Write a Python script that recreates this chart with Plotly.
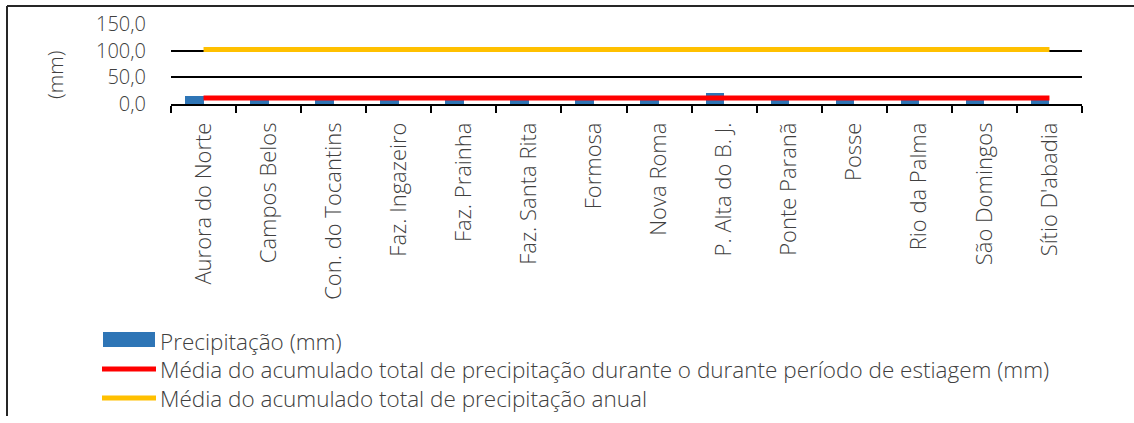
import plotly.graph_objects as go

# Estações pluviométricas
estacoes = [
    "Aurora do Norte", "Campos Belos", "Con. do Tocantins", "Faz. Ingazeiro",
    "Faz. Prainha", "Faz. Santa Rita", "Formosa", "Nova Roma",
    "P. Alta do B. J.", "Ponte Paranã", "Posse", "Rio da Palma",
    "São Domingos", "Sítio D'abadia",
]
# Precipitação no período de estiagem (mm)
precipitacao = [14.3, 10.0, 10.2, 10.1, 10.3, 9.9, 10.2, 10.0, 20.6, 10.1, 10.3, 10.0, 10.4, 10.2]
# Médias de referência (mm)
media_estiagem = 11.2
media_anual = 102.0

nomes = [
    "Precipitação (mm)",
    "Média do acumulado total de precipitação durante o durante período de estiagem (mm)",
    "Média do acumulado total de precipitação anual",
]

AZUL = "#2E75B6"
VERMELHO = "#FF0000"
AMARELO = "#FFC000"
TEXTO = "#404040"
FONTE = "Open Sans, Noto Sans, sans-serif"
PESO = 300

W, H = 1134, 423
ML, MR, MT, MB = 171, 52, 24, 319
BASE = H - MB  # linha do eixo x, em pixels a partir do topo


def box(x0, x1, y0, y1):
    # posições em pixels (a partir do canto superior esquerdo da figura),
    # ancoradas no canto inferior esquerdo da área do gráfico
    return dict(xref="paper", yref="paper", xsizemode="pixel", ysizemode="pixel",
                xanchor=0, yanchor=0,
                x0=x0 - ML, x1=x1 - ML, y0=BASE - y0, y1=BASE - y1)


fig = go.Figure()
fig.add_trace(go.Bar(
    x=estacoes, y=precipitacao, name=nomes[0],
    marker=dict(color=AZUL, line=dict(width=0)),
    width=0.285, offset=-0.285, showlegend=False,
))
fig.add_trace(go.Scatter(
    x=estacoes, y=[media_estiagem] * len(estacoes), name=nomes[1],
    mode="lines", line=dict(color=VERMELHO, width=5), showlegend=False,
))
fig.add_trace(go.Scatter(
    x=estacoes, y=[media_anual] * len(estacoes), name=nomes[2],
    mode="lines", line=dict(color=AMARELO, width=5), showlegend=False,
))

shapes = [
    # moldura do gráfico
    dict(type="line", line=dict(color="#262626", width=2), **box(7, 1140, 6, 6)),
    dict(type="line", line=dict(color="#262626", width=2), **box(7, 7, 6, 416)),
]


def label(text, x, y, **kw):
    return dict(text=text, xref="paper", yref="paper", x=0, y=0,
                xshift=x - ML, yshift=BASE - y, showarrow=False, **kw)


annotations = [
    label("(mm)", 55, 75, textangle=-90, xanchor="center", yanchor="middle",
          font=dict(family=FONTE, size=21, color=TEXTO, weight=PESO)),
]

# legenda
leg_rows = [341, 369, 398]
shapes.append(dict(type="rect", fillcolor=AZUL, line=dict(width=0), layer="above",
                   **box(103, 155, 332, 347)))
for cor, row in ((VERMELHO, leg_rows[1]), (AMARELO, leg_rows[2])):
    shapes.append(dict(type="line", line=dict(color=cor, width=5), layer="above",
                       **box(102, 156, row, row)))
for nome, row in zip(nomes, leg_rows):
    annotations.append(label(nome, 158, row, xanchor="left", yanchor="middle",
                             font=dict(family=FONTE, size=22.5, color=TEXTO, weight=PESO)))

fig.update_layout(
    width=W, height=H,
    margin=dict(l=ML, r=MR, t=MT, b=MB, pad=0, autoexpand=False),
    paper_bgcolor="white", plot_bgcolor="white",
    font=dict(family=FONTE, size=21, color=TEXTO, weight=PESO),
    bargap=0, showlegend=False,
    shapes=shapes, annotations=annotations,
    xaxis=dict(
        type="category", tickangle=-90, tickson="boundaries",
        ticks="outside", ticklen=7, tickcolor="black", tickwidth=1.5,
        showline=True, linecolor="black", linewidth=1.5,
        showgrid=False, ticklabelstandoff=8, automargin=False,
        tickfont=dict(family=FONTE, size=22, color=TEXTO, weight=PESO),
    ),
    yaxis=dict(
        range=[0, 150], tickvals=[0, 50, 100, 150],
        ticktext=["0,0", "50,0", "100,0", "150,0"],
        showgrid=True, gridcolor="black", gridwidth=1.5,
        zeroline=False, showline=False, ticks="", automargin=False,
        tickfont=dict(family=FONTE, size=20, color=TEXTO, weight=PESO),
        ticklabelstandoff=24,
    ),
)

fig.write_html("out.html")
